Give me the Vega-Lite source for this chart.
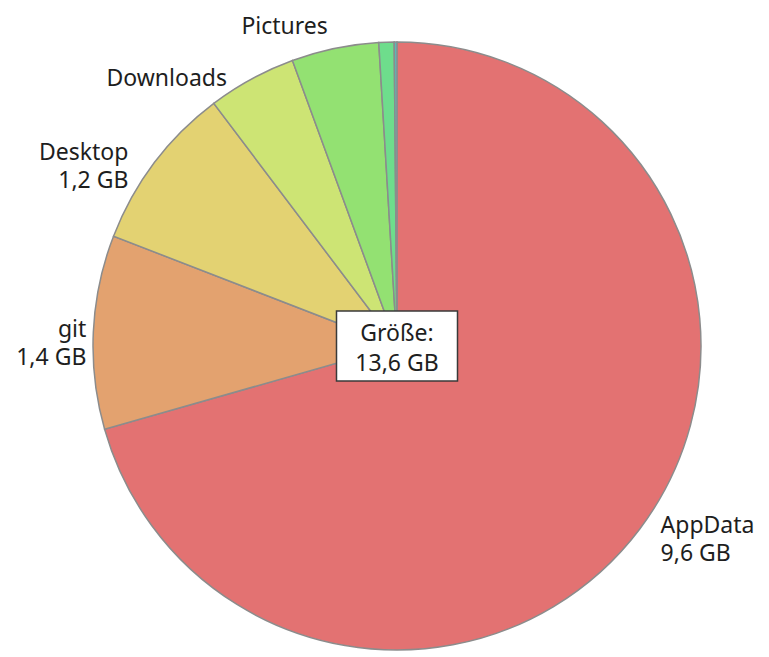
{
  "$schema": "https://vega.github.io/schema/vega-lite/v6.json",
  "width": 744,
  "height": 622,
  "autosize": {"type": "none"},
  "padding": {"left": 25, "top": 35, "right": 0, "bottom": 0},
  "background": "white",
  "config": {"view": {"stroke": null}, "font": "Noto Sans"},
  "datasets": {
    "folders": [
      {"idx": 1, "name": "AppData", "gb": 9.6, "label": "AppData\n9,6 GB"},
      {"idx": 2, "name": "git", "gb": 1.4, "label": "git\n1,4 GB"},
      {"idx": 3, "name": "Desktop", "gb": 1.2, "label": "Desktop\n1,2 GB"},
      {"idx": 4, "name": "Downloads", "gb": 0.64, "label": "Downloads"},
      {"idx": 5, "name": "Pictures", "gb": 0.63, "label": "Pictures"},
      {"idx": 6, "name": "Documents", "gb": 0.11, "label": ""},
      {"idx": 7, "name": "Music", "gb": 0.02, "label": ""}
    ],
    "total": [
      {"caption": "Größe:\n13,6 GB"}
    ]
  },
  "layer": [
    {
      "data": {"name": "folders"},
      "mark": {"type": "arc", "outerRadius": 304, "stroke": "#8c8c8c", "strokeWidth": 1.5},
      "encoding": {
        "theta": {"field": "gb", "type": "quantitative", "stack": true},
        "order": {"field": "idx", "type": "quantitative"},
        "color": {
          "field": "name",
          "type": "nominal",
          "scale": {
            "domain": ["AppData", "git", "Desktop", "Downloads", "Pictures", "Documents", "Music"],
            "range": ["#e37272", "#e3a26f", "#e3d272", "#cde474", "#93e172", "#6edd8c", "#5cb8b8"]
          },
          "legend": null
        }
      }
    },
    {
      "data": {"name": "folders"},
      "mark": {"type": "text", "radius": 324, "dx": 5, "dy": -15, "align": "left", "baseline": "middle", "lineBreak": "\n", "fontSize": 23, "lineHeight": 28, "color": "#1e1e1e"},
      "encoding": {
        "theta": {"field": "gb", "type": "quantitative", "stack": true},
        "order": {"field": "idx", "type": "quantitative"},
        "detail": {"field": "name", "type": "nominal"},
        "text": {"condition": {"test": "datum.name === 'AppData'", "field": "label"}, "value": ""}
      }
    },
    {
      "data": {"name": "folders"},
      "mark": {"type": "text", "radius": 324, "dx": 13, "dy": -1, "align": "right", "baseline": "middle", "lineBreak": "\n", "fontSize": 23, "lineHeight": 28, "color": "#1e1e1e"},
      "encoding": {
        "theta": {"field": "gb", "type": "quantitative", "stack": true},
        "order": {"field": "idx", "type": "quantitative"},
        "detail": {"field": "name", "type": "nominal"},
        "text": {"condition": {"test": "datum.name === 'git'", "field": "label"}, "value": ""}
      }
    },
    {
      "data": {"name": "folders"},
      "mark": {"type": "text", "radius": 324, "dx": -10, "dy": 2, "align": "right", "baseline": "middle", "lineBreak": "\n", "fontSize": 23, "lineHeight": 28, "color": "#1e1e1e"},
      "encoding": {
        "theta": {"field": "gb", "type": "quantitative", "stack": true},
        "order": {"field": "idx", "type": "quantitative"},
        "detail": {"field": "name", "type": "nominal"},
        "text": {"condition": {"test": "datum.name === 'Desktop'", "field": "label"}, "value": ""}
      }
    },
    {
      "data": {"name": "folders"},
      "mark": {"type": "text", "radius": 324, "dx": -15, "dy": 17, "align": "right", "baseline": "middle", "lineBreak": "\n", "fontSize": 23, "lineHeight": 28, "color": "#1e1e1e"},
      "encoding": {
        "theta": {"field": "gb", "type": "quantitative", "stack": true},
        "order": {"field": "idx", "type": "quantitative"},
        "detail": {"field": "name", "type": "nominal"},
        "text": {"condition": {"test": "datum.name === 'Downloads'", "field": "label"}, "value": ""}
      }
    },
    {
      "data": {"name": "folders"},
      "mark": {"type": "text", "radius": 324, "dx": -3, "dy": -2, "align": "right", "baseline": "middle", "lineBreak": "\n", "fontSize": 23, "lineHeight": 28, "color": "#1e1e1e"},
      "encoding": {
        "theta": {"field": "gb", "type": "quantitative", "stack": true},
        "order": {"field": "idx", "type": "quantitative"},
        "detail": {"field": "name", "type": "nominal"},
        "text": {"condition": {"test": "datum.name === 'Pictures'", "field": "label"}, "value": ""}
      }
    },
    {
      "data": {"name": "total"},
      "mark": {"type": "point", "shape": "M-1,-0.58L1,-0.58L1,0.58L-1,0.58Z", "size": 14641, "filled": true, "fill": "white", "opacity": 1, "stroke": "#3a3a3a", "strokeWidth": 1.5},
      "encoding": {}
    },
    {
      "data": {"name": "total"},
      "mark": {"type": "text", "baseline": "middle", "dy": -12, "lineBreak": "\n", "fontSize": 23, "lineHeight": 30, "color": "#1e1e1e"},
      "encoding": {"text": {"field": "caption"}}
    }
  ]
}
